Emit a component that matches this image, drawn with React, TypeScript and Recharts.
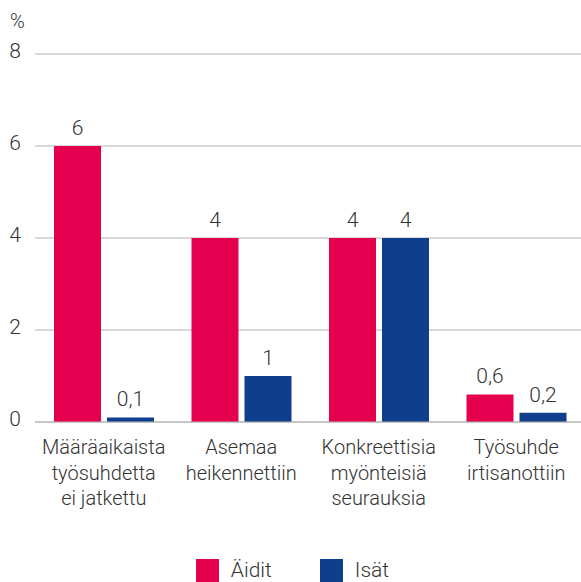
import { Bar, BarChart, CartesianGrid, LabelList, Legend, XAxis, YAxis } from 'recharts';

const FONT = "Roboto, 'DejaVu Sans Condensed', sans-serif";
const WEIGHT = 300;
const TEXT = '#333333';
const PINK = '#e5004f';
const NAVY = '#0f3f8c';

const categories = [
  ['Määräaikaista', 'työsuhdetta', 'ei jatkettu'],
  ['Asemaa', 'heikennettiin'],
  ['Konkreettisia', 'myönteisiä', 'seurauksia'],
  ['Työsuhde', 'irtisanottiin'],
];
const aidit = [6, 4, 4, 0.6];
const isat = [0.1, 1, 4, 0.2];
const yTicks = [0, 2, 4, 6, 8];

const data = categories.map((c, i) => ({ name: c.join('\n'), aidit: aidit[i], isat: isat[i] }));

const fmt = (v: unknown) => String(v).replace('.', ',');

function CategoryTick({ x, y, payload }: { x: number; y: number; payload: { value: string } }) {
  const lines = String(payload.value).split('\n');
  return (
    <text x={x} y={y} textAnchor="middle" fill={TEXT} fontSize={20} fontWeight={WEIGHT} fontFamily={FONT}>
      {lines.map((l, i) => (
        <tspan key={i} x={x} dy={i === 0 ? 24 : 25.5}>
          {l}
        </tspan>
      ))}
    </text>
  );
}

function LegendContent() {
  const items = [
    { label: 'Äidit', color: PINK },
    { label: 'Isät', color: NAVY },
  ];
  return (
    <div style={{ display: 'flex', justifyContent: 'center', alignItems: 'flex-end', height: 40, gap: 48 }}>
      {items.map((it) => (
        <div key={it.label} style={{ display: 'flex', alignItems: 'center', gap: 12 }}>
          <div style={{ width: 23, height: 23, background: it.color }} />
          <span style={{ fontFamily: FONT, fontWeight: WEIGHT, fontSize: 21, color: TEXT, lineHeight: '23px' }}>
            {it.label}
          </span>
        </div>
      ))}
    </div>
  );
}

export default function App() {
  return (
    <div style={{ position: 'absolute', left: 0, top: 0, width: 581, height: 582, background: '#fff', overflow: 'hidden' }}>
      <div style={{ position: 'absolute', left: 10, top: 9, fontFamily: FONT, fontWeight: WEIGHT, fontSize: 20, color: TEXT }}>
        %
      </div>
      <BarChart
        width={581}
        height={582}
        data={data}
        margin={{ top: 54, right: -4, left: 0, bottom: 0 }}
        barGap={6}
        barSize={47}
      >
        <CartesianGrid horizontal vertical={false} stroke="#b3b3b3" />
        <XAxis
          dataKey="name"
          height={120}
          interval={0}
          tickLine={false}
          axisLine={{ stroke: '#b3b3b3' }}
          tick={CategoryTick as never}
        />
        <YAxis
          width={35}
          domain={[0, 8]}
          ticks={yTicks}
          axisLine={false}
          tickLine={false}
          tickSize={0}
          tickMargin={14}
          tick={{ fill: TEXT, fontSize: 21, fontWeight: WEIGHT, fontFamily: FONT, dy: -3 }}
        />
        <Legend verticalAlign="bottom" content={LegendContent as never} />
        <Bar dataKey="aidit" name="Äidit" fill={PINK} isAnimationActive={false}>
          <LabelList dataKey="aidit" position="top" offset={11} formatter={fmt} fill={TEXT} fontSize={21} fontWeight={WEIGHT} fontFamily={FONT} />
        </Bar>
        <Bar dataKey="isat" name="Isät" fill={NAVY} isAnimationActive={false}>
          <LabelList dataKey="isat" position="top" offset={11} formatter={fmt} fill={TEXT} fontSize={21} fontWeight={WEIGHT} fontFamily={FONT} />
        </Bar>
      </BarChart>
    </div>
  );
}
